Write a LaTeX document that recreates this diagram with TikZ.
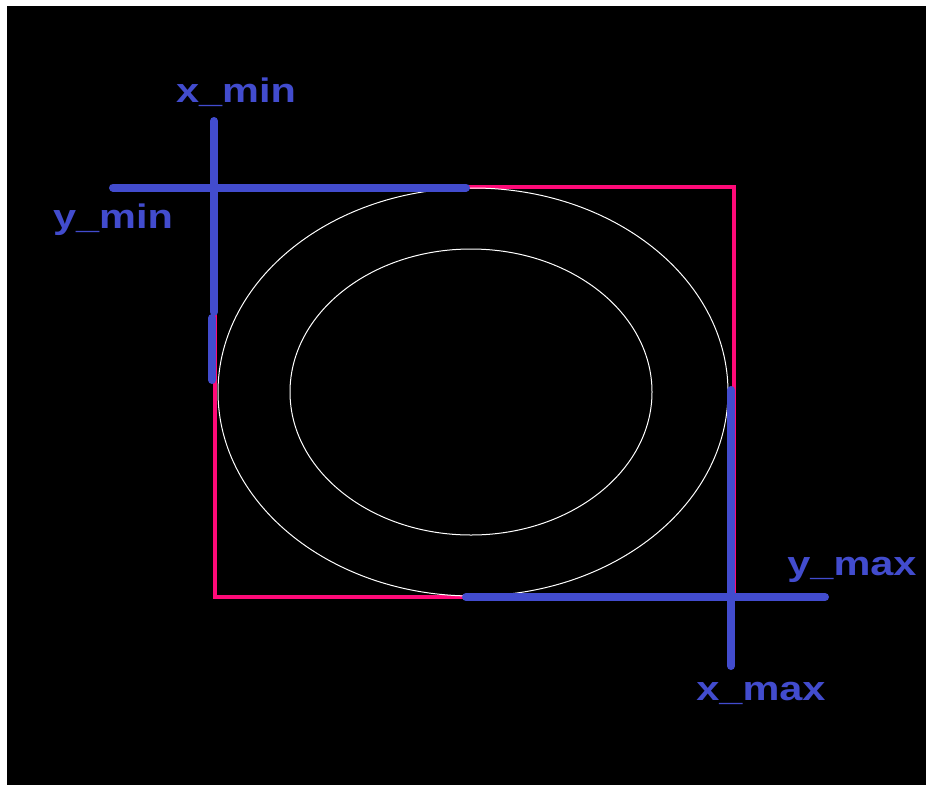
\documentclass[tikz,border=0pt]{standalone}
\usepackage{fontspec}
\setmainfont{Liberation Sans}
\definecolor{bluel}{RGB}{66,76,206}
\definecolor{redl}{RGB}{255,10,120}
\tikzset{
  bluebar/.style={draw=bluel,line width=8pt,line cap=round},
  redbox/.style={draw=redl,line width=3.5pt,line join=miter},
  ring/.style={draw=white,line width=1pt},
  lab/.style={text=bluel,font=\bfseries\fontsize{34}{34}\selectfont,anchor=base,inner sep=0pt,xscale=1.22}
}
\begin{document}
\begin{tikzpicture}[x=1pt,y=-1pt]
\useasboundingbox (0,0) rectangle (926,785);
\fill[white] (0,0) rectangle (926,785);
\fill[black] (7,6) rectangle (926,785);
% red square
\coordinate (tl) at (215,187);
\coordinate (tr) at (734,187);
\coordinate (br) at (734,597);
\coordinate (bl) at (215,597);
\draw[redbox] (tl) -- (tr) -- (br) -- (bl) -- cycle;
% ellipses
\coordinate (c1) at (473,392);
\coordinate (c2) at (471,392);
\draw[ring] (c1) ellipse [x radius=255, y radius=204];
\draw[ring] (c2) ellipse [x radius=181, y radius=143];
% blue bars
\coordinate (v1a) at (214,121);
\coordinate (v1b) at (214,312);
\coordinate (v2a) at (212,318);
\coordinate (v2b) at (212,380);
\coordinate (h1a) at (113,187.5);
\coordinate (h1b) at (466,187.5);
\coordinate (h2a) at (466,597);
\coordinate (h2b) at (825,597);
\coordinate (v3a) at (731,390);
\coordinate (v3b) at (731,666);
\draw[bluebar] (h1a) -- (h1b);
\draw[bluebar] (v1a) -- (v1b);
\draw[bluebar] (v2a) -- (v2b);
\draw[bluebar] (h2a) -- (h2b);
\draw[bluebar] (v3a) -- (v3b);
% labels
\node[lab] (xmin) at (236,102) {x\_min};
\node[lab] (ymin) at (113,228) {y\_min};
\node[lab] (ymax) at (852,575) {y\_max};
\node[lab] (xmax) at (761,700) {x\_max};
\end{tikzpicture}
\end{document}
